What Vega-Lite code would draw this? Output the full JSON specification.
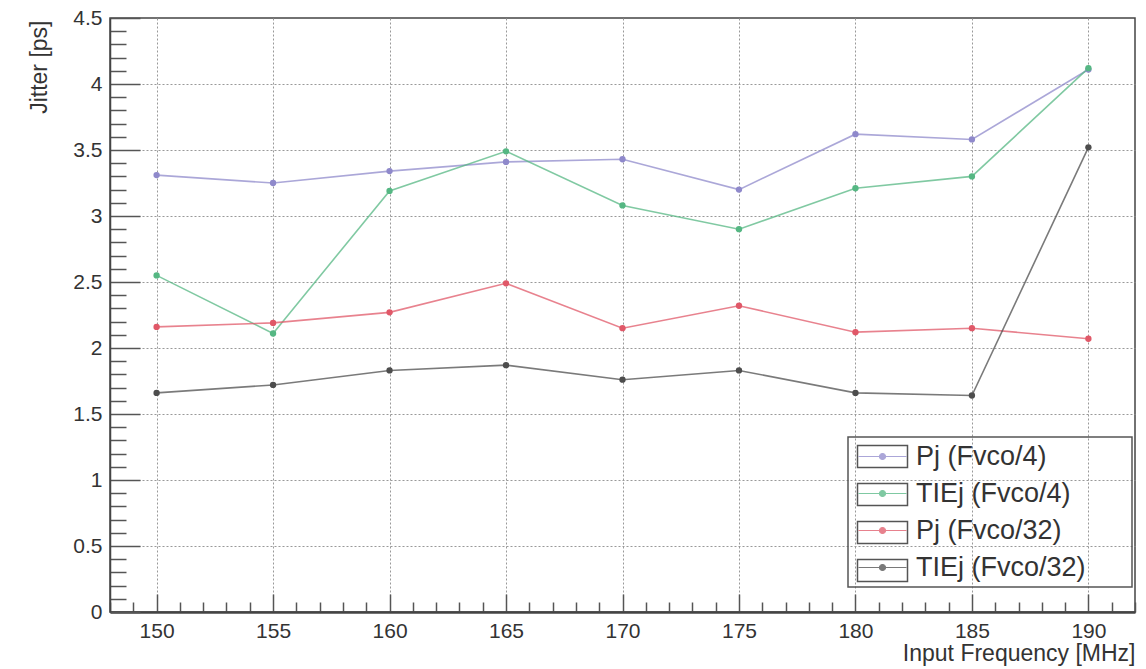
{
  "$schema": "https://vega.github.io/schema/vega-lite/v6.json",
  "width": 1025,
  "height": 594,
  "autosize": "none",
  "padding": {"left": 110, "top": 18, "right": 11, "bottom": 57},
  "background": "white",
  "config": {
    "font": "Liberation Sans",
    "view": {"stroke": "#444", "strokeWidth": 1.5},
    "axis": {"labelFont": "Liberation Sans", "titleFont": "Liberation Sans", "labelColor": "#333", "titleColor": "#333", "titleFontWeight": "normal"},
    "legend": {"strokeWidth": 1.5}
  },
  "data": {"values": [
    {"f": 150, "s": "Pj (Fvco/4)", "v": 3.31},
    {"f": 155, "s": "Pj (Fvco/4)", "v": 3.25},
    {"f": 160, "s": "Pj (Fvco/4)", "v": 3.34},
    {"f": 165, "s": "Pj (Fvco/4)", "v": 3.41},
    {"f": 170, "s": "Pj (Fvco/4)", "v": 3.43},
    {"f": 175, "s": "Pj (Fvco/4)", "v": 3.20},
    {"f": 180, "s": "Pj (Fvco/4)", "v": 3.62},
    {"f": 185, "s": "Pj (Fvco/4)", "v": 3.58},
    {"f": 190, "s": "Pj (Fvco/4)", "v": 4.11},
    {"f": 150, "s": "TIEj (Fvco/4)", "v": 2.55},
    {"f": 155, "s": "TIEj (Fvco/4)", "v": 2.11},
    {"f": 160, "s": "TIEj (Fvco/4)", "v": 3.19},
    {"f": 165, "s": "TIEj (Fvco/4)", "v": 3.49},
    {"f": 170, "s": "TIEj (Fvco/4)", "v": 3.08},
    {"f": 175, "s": "TIEj (Fvco/4)", "v": 2.90},
    {"f": 180, "s": "TIEj (Fvco/4)", "v": 3.21},
    {"f": 185, "s": "TIEj (Fvco/4)", "v": 3.30},
    {"f": 190, "s": "TIEj (Fvco/4)", "v": 4.12},
    {"f": 150, "s": "Pj (Fvco/32)", "v": 2.16},
    {"f": 155, "s": "Pj (Fvco/32)", "v": 2.19},
    {"f": 160, "s": "Pj (Fvco/32)", "v": 2.27},
    {"f": 165, "s": "Pj (Fvco/32)", "v": 2.49},
    {"f": 170, "s": "Pj (Fvco/32)", "v": 2.15},
    {"f": 175, "s": "Pj (Fvco/32)", "v": 2.32},
    {"f": 180, "s": "Pj (Fvco/32)", "v": 2.12},
    {"f": 185, "s": "Pj (Fvco/32)", "v": 2.15},
    {"f": 190, "s": "Pj (Fvco/32)", "v": 2.07},
    {"f": 150, "s": "TIEj (Fvco/32)", "v": 1.66},
    {"f": 155, "s": "TIEj (Fvco/32)", "v": 1.72},
    {"f": 160, "s": "TIEj (Fvco/32)", "v": 1.83},
    {"f": 165, "s": "TIEj (Fvco/32)", "v": 1.87},
    {"f": 170, "s": "TIEj (Fvco/32)", "v": 1.76},
    {"f": 175, "s": "TIEj (Fvco/32)", "v": 1.83},
    {"f": 180, "s": "TIEj (Fvco/32)", "v": 1.66},
    {"f": 185, "s": "TIEj (Fvco/32)", "v": 1.64},
    {"f": 190, "s": "TIEj (Fvco/32)", "v": 3.52}
  ]},
  "encoding": {
    "x": {
      "field": "f", "type": "quantitative",
      "scale": {"domain": [148, 192], "nice": false, "zero": false},
      "axis": {
        "title": "Input Frequency [MHz]",
        "titleFontSize": 23,
        "titleX": 1025, "titleY": 48, "titleAlign": "right", "titleBaseline": "alphabetic", "titleAnchor": null,
        "values": [148,149,150,151,152,153,154,155,156,157,158,159,160,161,162,163,164,165,166,167,168,169,170,171,172,173,174,175,176,177,178,179,180,181,182,183,184,185,186,187,188,189,190,191,192],
        "labelExpr": "datum.value % 5 == 0 ? datum.label : ''",
        "format": "d",
        "labelFontSize": 21,
        "labelPadding": 26,
        "tickColor": "#555",
        "tickWidth": 1.5,
        "tickSize": {"condition": {"test": "datum.value % 5 == 0", "value": -18}, "value": -10},
        "grid": true,
        "gridColor": "#999",
        "gridDash": [2, 2],
        "gridWidth": 1,
        "gridOpacity": {"condition": {"test": "datum.value % 5 == 0", "value": 1}, "value": 0},
        "domainColor": "#444",
        "domainWidth": 2.5
      }
    },
    "y": {
      "field": "v", "type": "quantitative",
      "scale": {"domain": [0, 4.5], "nice": false, "zero": true},
      "axis": {
        "title": "Jitter [ps]",
        "titleFontSize": 23,
        "titleX": -71, "titleY": 2, "titleAlign": "right", "titleBaseline": "middle", "titleAngle": 270, "titleAnchor": null,
        "values": [0,0.1,0.2,0.3,0.4,0.5,0.6,0.7,0.8,0.9,1,1.1,1.2,1.3,1.4,1.5,1.6,1.7,1.8,1.9,2,2.1,2.2,2.3,2.4,2.5,2.6,2.7,2.8,2.9,3,3.1,3.2,3.3,3.4,3.5,3.6,3.7,3.8,3.9,4,4.1,4.2,4.3,4.4,4.5],
        "format": "~g",
        "labelExpr": "abs(datum.value*2 - round(datum.value*2)) < 0.001 ? datum.label : ''",
        "labelFontSize": 21,
        "labelPadding": 38,
        "tickColor": "#555",
        "tickWidth": 1.5,
        "tickSize": {"condition": {"test": "abs(datum.value*2 - round(datum.value*2)) < 0.001", "value": -30}, "value": -16},
        "grid": true,
        "gridColor": "#999",
        "gridDash": [2, 2],
        "gridWidth": 1,
        "gridOpacity": {"condition": {"test": "abs(datum.value*2 - round(datum.value*2)) < 0.001 && datum.value > 0 && datum.value < 4.5", "value": 1}, "value": 0},
        "domainColor": "#444",
        "domainWidth": 1.5
      }
    }
  },
  "layer": [
    {
      "mark": {"type": "point", "filled": false, "size": 400, "opacity": 0, "color": "#555", "strokeWidth": 1.5},
      "encoding": {
        "shape": {
          "field": "s", "type": "nominal",
          "scale": {
            "domain": ["TIEj (Fvco/32)", "Pj (Fvco/32)", "TIEj (Fvco/4)", "Pj (Fvco/4)"],
            "range": ["M-2.5,-1.1H2.5V1.1H-2.5Z", "M-2.5,-1.1H2.5V1.1H-2.5Z", "M-2.5,-1.1H2.5V1.1H-2.5Z", "M-2.5,-1.1H2.5V1.1H-2.5Z"]
          },
          "legend": {
            "title": null,
            "orient": "none",
            "legendX": 738,
            "legendY": 419,
            "padding": 6,
            "rowPadding": 9,
            "labelFont": "Liberation Sans",
            "labelFontSize": 27,
            "labelOpacity": 0,
            "labelExpr": "''",
            "labelLimit": 400,
            "labelOffset": 20,
            "symbolOffset": 15,
            "symbolSize": 400,
            "symbolStrokeWidth": 1.5,
            "symbolStrokeColor": "#555",
            "symbolFillColor": "transparent",
            "symbolOpacity": 1
          }
        }
      }
    },
    {
      "encoding": {
        "color": {
          "field": "s", "type": "nominal",
          "scale": {
            "domain": ["Pj (Fvco/4)", "TIEj (Fvco/4)", "Pj (Fvco/32)", "TIEj (Fvco/32)"],
            "range": ["#8f89cb", "#55b783", "#e05868", "#4d4d4d"]
          },
          "legend": {
            "title": null,
            "orient": "none",
            "legendX": 738,
            "legendY": 419,
            "strokeColor": "#555",
            "padding": 6,
            "rowPadding": 9,
            "labelFont": "Liberation Sans",
            "labelFontSize": 27,
            "labelColor": "#333",
            "labelLimit": 400,
            "labelExpr": "datum.label + '\u2800\u2800'",
            "labelOffset": 20,
            "symbolOffset": 15,
            "symbolType": "M-2.4,0H2.4M-0.3,0a0.3,0.3 0 1,0 0.6,0a0.3,0.3 0 1,0 -0.6,0",
            "symbolSize": 400,
            "symbolStrokeWidth": 1.2
          }
        }
      },
      "layer": [
        {"mark": {"type": "line", "strokeWidth": 1.6, "opacity": 0.75}},
        {"mark": {"type": "point", "filled": true, "size": 40, "opacity": 1}}
      ]
    }
  ]
}
